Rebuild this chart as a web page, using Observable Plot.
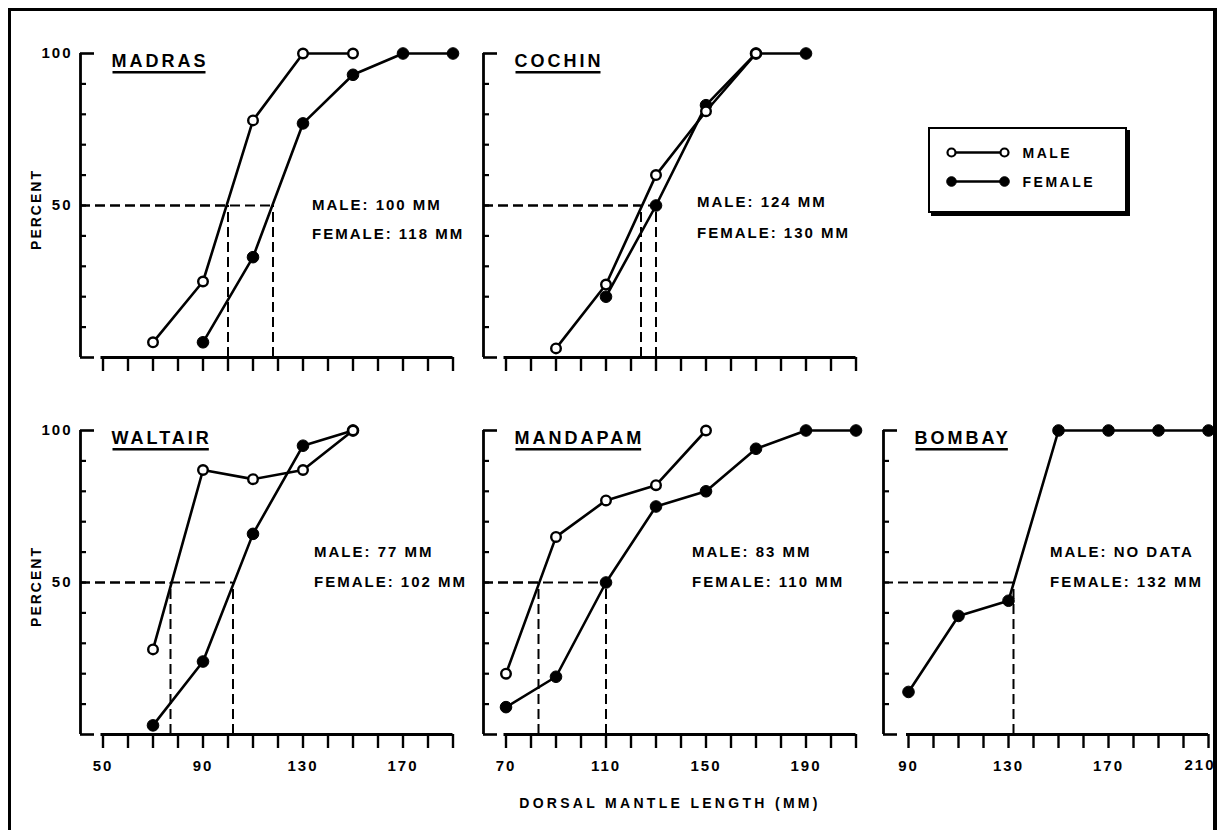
<!DOCTYPE html>
<html>
<head>
<meta charset="utf-8">
<script src="https://cdn.jsdelivr.net/npm/d3@7"></script>
<script src="https://cdn.jsdelivr.net/npm/@observablehq/plot@0.6"></script>
<style>
  body { margin: 0; background: #fff; }
  #root { position: relative; width: 1219px; height: 830px; overflow: hidden; background: #fff;
          font-family: "Liberation Sans", Arial, sans-serif; font-weight: bold; color: #000; }
  .panel { position: absolute; }
  .panel svg { overflow: visible; max-width: none; }
  #frame { position: absolute; left: 8px; top: 8px; width: 1209px; height: 900px; box-sizing: border-box;
           border-left: 3px solid #000; border-top: 3px solid #000; border-right: 4px solid #000; }
  #legend { position: absolute; left: 928px; top: 127px; width: 199px; height: 86px; box-sizing: border-box;
            border: 2.5px solid #000; box-shadow: 3px 3px 0 #000; background: #fff; }
  #xtitle { position: absolute; left: 470px; width: 400px; top: 794px; text-align: center;
            font-size: 14px; line-height: 18px; letter-spacing: 3.3px; }
</style>
</head>
<body>
<div id="root"><div id="frame"></div></div>
<script>
// ---------------- data ----------------
const panelNames = ["MADRAS", "COCHIN", "WALTAIR", "MANDAPAM", "BOMBAY"];

const madrasMaleLength   = [70, 90, 110, 130, 150];
const madrasMalePct      = [5, 25, 78, 100, 100];
const madrasFemaleLength = [90, 110, 130, 150, 170, 190];
const madrasFemalePct    = [5, 33, 77, 93, 100, 100];

const cochinMaleLength   = [90, 110, 130, 150, 170];
const cochinMalePct      = [3, 24, 60, 81, 100];
const cochinFemaleLength = [110, 130, 150, 170, 190];
const cochinFemalePct    = [20, 50, 83, 100, 100];

const waltairMaleLength   = [70, 90, 110, 130, 150];
const waltairMalePct      = [28, 87, 84, 87, 100];
const waltairFemaleLength = [70, 90, 110, 130, 150];
const waltairFemalePct    = [3, 24, 66, 95, 100];

const mandapamMaleLength   = [70, 90, 110, 130, 150];
const mandapamMalePct      = [20, 65, 77, 82, 100];
const mandapamFemaleLength = [70, 90, 110, 130, 150, 170, 190, 210];
const mandapamFemalePct    = [9, 19, 50, 75, 80, 94, 100, 100];

const bombayMaleLength   = [];
const bombayMalePct      = [];
const bombayFemaleLength = [90, 110, 130, 150, 170, 190, 210];
const bombayFemalePct    = [14, 39, 44, 100, 100, 100, 100];

// length at 50% maturity (mm)
const male50   = [100, 124, 77, 83, null];
const female50 = [118, 130, 102, 110, 132];
const maleNotes   = ["MALE: 100 MM", "MALE: 124 MM", "MALE: 77 MM", "MALE: 83 MM", "MALE: NO DATA"];
const femaleNotes = ["FEMALE: 118 MM", "FEMALE: 130 MM", "FEMALE: 102 MM", "FEMALE: 110 MM", "FEMALE: 132 MM"];

const xTicksA = d3.range(50, 191, 10);   // Madras, Waltair
const xTicksB = d3.range(70, 211, 10);   // Cochin, Mandapam
const xTicksC = d3.range(90, 211, 10);   // Bombay
const xLabelsA = [50, 90, 130, 170];
const xLabelsB = [70, 110, 150, 190];
const xLabelsC = [90, 130, 170, 210];
const yMinorTicks = d3.range(10, 100, 10);
const yEndTicks = [0, 100];
const yTickLabels = [50, 100];
const yAxisTitle = "PERCENT";
const xAxisTitle = "DORSAL MANTLE LENGTH (MM)";
const legendLabels = ["MALE", "FEMALE"];

// ---------------- layout (style only) ----------------
const PX = 2.5, FRAME_H = 304;
const layout = [
  {left: 0,   top: 0,   axisMin: 41, xmax: 190, ticks: xTicksA, labels: [],       showY: true,  bottom: false, noteX: 133.6, noteMaleY: 50, noteFemY: 40.5},
  {left: 463, top: 0,   axisMin: 61, xmax: 210, ticks: xTicksB, labels: [],       showY: false, bottom: false, noteX: 146.4, noteMaleY: 51, noteFemY: 40.8},
  {left: 0,   top: 377, axisMin: 41, xmax: 190, ticks: xTicksA, labels: xLabelsA, showY: true,  bottom: true,  noteX: 134.4, noteMaleY: 60, noteFemY: 50},
  {left: 463, top: 377, axisMin: 61, xmax: 210, ticks: xTicksB, labels: xLabelsB, showY: false, bottom: true,  noteX: 144.4, noteMaleY: 60, noteFemY: 50},
  {left: 863, top: 377, axisMin: 80, xmax: 210, ticks: xTicksC, labels: xLabelsC, showY: false, bottom: true,  noteX: 146.6, noteMaleY: 60, noteFemY: 50, lastLabelEnd: true}
];

const seriesData = [
  [madrasMaleLength, madrasMalePct, madrasFemaleLength, madrasFemalePct],
  [cochinMaleLength, cochinMalePct, cochinFemaleLength, cochinFemalePct],
  [waltairMaleLength, waltairMalePct, waltairFemaleLength, waltairFemalePct],
  [mandapamMaleLength, mandapamMalePct, mandapamFemaleLength, mandapamFemalePct],
  [bombayMaleLength, bombayMalePct, bombayFemaleLength, bombayFemalePct]
];

function toPoints(xs, ys) { return xs.map((x, i) => ({x, y: ys[i]})); }

const root = document.getElementById("root");
const dash = "10,5";

panelNames.forEach((name, i) => {
  const L = layout[i];
  const [mx, my, fx, fy] = seriesData[i];
  const male = toPoints(mx, my);
  const female = toPoints(fx, fy);
  const ML = L.showY ? 80 : 20, MR = 12, MT = 53, MB = L.bottom ? 50 : 26;
  const width = ML + (L.xmax - L.axisMin) * PX + MR;
  const height = MT + FRAME_H + MB;

  const cross = [];
  if (male50[i] != null) cross.push(male50[i]);
  if (female50[i] != null) cross.push(female50[i]);

  const notes = [
    {x: L.noteX, y: L.noteMaleY, t: maleNotes[i]},
    {x: L.noteX, y: L.noteFemY, t: femaleNotes[i]}
  ];

  const lastLabel = L.labels.length ? L.labels[L.labels.length - 1] : null;
  const axisLabels = L.lastLabelEnd ? L.labels.slice(0, -1) : L.labels;

  const marks = [
    // y axis
    Plot.ruleX([L.axisMin], {y1: 0, y2: 100, strokeWidth: 2.8}),
    Plot.ruleY(yEndTicks, {x1: L.axisMin, x2: L.axisMin + 5.6, strokeWidth: 2.6}),
    Plot.ruleY(yMinorTicks, {x1: L.axisMin, x2: L.axisMin + 2.4, strokeWidth: 2.2}),
    // x axis
    Plot.ruleY([0], {x1: L.ticks[0] - 0.8, x2: L.xmax, strokeWidth: 2.8}),
    Plot.axisX({ticks: L.ticks, tickSize: 14, strokeWidth: 2.4, tickPadding: 12, fontSize: 15, label: null,
                tickFormat: d => axisLabels.includes(d) ? String(d) : ""}),
    // 50% crosshairs
    Plot.ruleY(cross, {y: 50, x1: L.axisMin, x2: d => d, strokeDasharray: dash, strokeWidth: 2}),
    Plot.ruleX(cross, {x: d => d, y1: 0, y2: 50, strokeDasharray: dash, strokeWidth: 2}),
    // series
    Plot.line(female, {x: "x", y: "y", strokeWidth: 2.6}),
    Plot.line(male, {x: "x", y: "y", strokeWidth: 2.6}),
    Plot.dot(female, {x: "x", y: "y", r: 5.8, fill: "black", stroke: "black", strokeWidth: 1}),
    Plot.dot(male, {x: "x", y: "y", r: 4.8, fill: "white", stroke: "black", strokeWidth: 2.4}),
    // texts
    Plot.text([name], {text: d => d, frameAnchor: "top-left", dx: 31, dy: 1, textAnchor: "start", fontSize: 18}),
    Plot.text(notes, {x: "x", y: "y", text: "t", textAnchor: "start", fontSize: 15})
  ];
  if (L.lastLabelEnd && lastLabel != null) {
    marks.push(Plot.text([lastLabel], {x: d => d, text: d => String(d), frameAnchor: "bottom", dy: 35, dx: 7,
                                       textAnchor: "end", fontSize: 15}));
  }
  if (L.showY) {
    marks.push(
      Plot.text(yTickLabels, {y: d => d, text: d => String(d), frameAnchor: "left", dx: -8, textAnchor: "end", fontSize: 15}),
      Plot.text([yAxisTitle], {text: d => d, frameAnchor: "left", dx: -44, dy: 4, rotate: -90, textAnchor: "middle", fontSize: 14})
    );
  }

  const svg = Plot.plot({
    width, height,
    marginLeft: ML, marginRight: MR, marginTop: MT, marginBottom: MB,
    x: {domain: [L.axisMin, L.xmax], axis: null, label: null},
    y: {domain: [0, 100], axis: null, label: null},
    style: {background: "transparent", overflow: "visible", color: "black",
            fontFamily: "'Liberation Sans', Arial, sans-serif", fontWeight: "bold", letterSpacing: "2px", maxWidth: "none"},
    marks
  });

  const div = document.createElement("div");
  div.className = "panel";
  div.style.left = L.left + "px";
  div.style.top = L.top + "px";
  div.style.width = width + "px";
  div.style.height = height + "px";
  div.appendChild(svg);
  root.appendChild(div);

  // underline the panel title
  d3.select(svg).selectAll("text").each(function() {
    if (this.textContent !== name) return;
    this.setAttribute("letter-spacing", "3");
    const b = this.getBBox();
    const yy = b.y + b.height + 1;
    d3.select(this.parentNode).append("line")
      .attr("transform", this.getAttribute("transform"))
      .attr("x1", b.x + 1).attr("x2", b.x + b.width - 3)
      .attr("y1", yy).attr("y2", yy)
      .attr("stroke", "black").attr("stroke-width", 2.4);
  });
});

// legend
const legend = d3.select(root).append("div").attr("id", "legend");
const lsvg = legend.append("svg").attr("width", 194).attr("height", 81)
  .style("font-family", "'Liberation Sans', Arial, sans-serif").style("font-weight", "bold");
legendLabels.forEach((lab, i) => {
  const y = 23.5 + i * 29;
  const isMale = i === 0;
  lsvg.append("line").attr("x1", 21.5).attr("x2", 74.5).attr("y1", y).attr("y2", y)
    .attr("stroke", "black").attr("stroke-width", 2.4);
  [21.5, 74.5].forEach(cx => {
    lsvg.append("circle").attr("cx", cx).attr("cy", y).attr("r", isMale ? 4 : 4.8)
      .attr("fill", isMale ? "white" : "black").attr("stroke", "black").attr("stroke-width", isMale ? 2.2 : 1);
  });
  lsvg.append("text").attr("x", 92.5).attr("y", y).attr("dy", "0.36em")
    .attr("font-size", 14).attr("letter-spacing", 2.5).text(lab);
});

// shared x-axis title
d3.select(root).append("div").attr("id", "xtitle").text(xAxisTitle);
</script>
</body>
</html>
